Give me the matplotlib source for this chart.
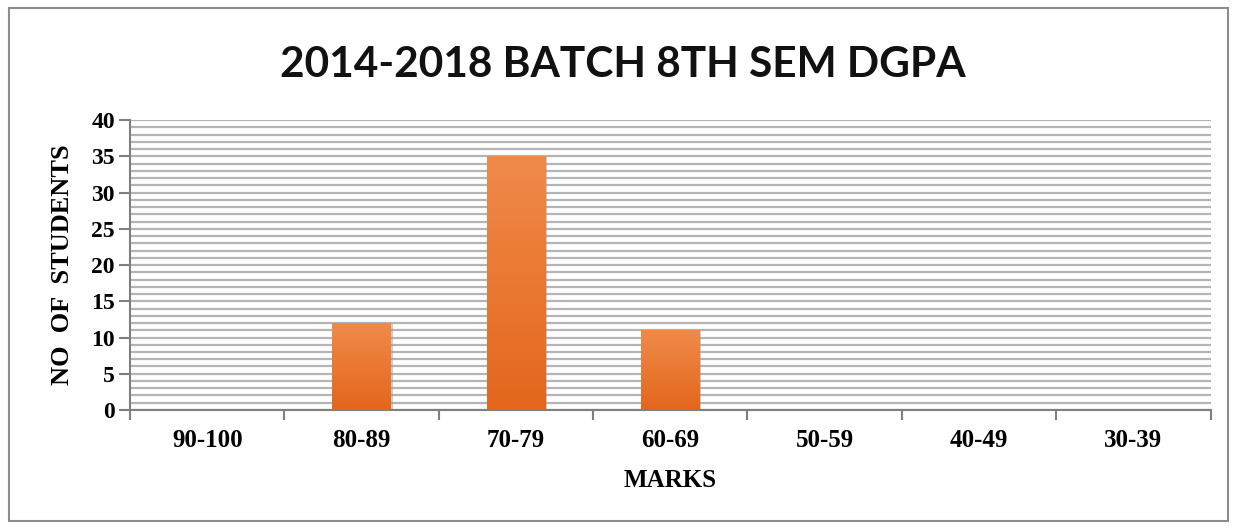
import matplotlib

matplotlib.use("Agg")
import matplotlib.pyplot as plt  # noqa: E402
import numpy as np  # noqa: E402
from matplotlib.colors import LinearSegmentedColormap  # noqa: E402
from matplotlib.patches import Rectangle  # noqa: E402

categories = ["90-100", "80-89", "70-79", "60-69", "50-59", "40-49", "30-39"]
students = [0, 12, 35, 11, 0, 0, 0]
y_ticks = [0, 5, 10, 15, 20, 25, 30, 35, 40]

fig = plt.figure(figsize=(12.39, 5.29), dpi=100)
ax = fig.add_axes([0.105, 0.225, 0.872, 0.548])

# outer chart frame
fig.patches.append(Rectangle((0.007, 0.015), 0.984, 0.97, transform=fig.transFigure,
                             fill=False, edgecolor="#8c8c8c", lw=1.5))

x = np.arange(len(categories))
bars = ax.bar(x, students, width=0.38, color="none", zorder=3)

grad = LinearSegmentedColormap.from_list("og", ["#e4661c", "#f08a4a"])
for b in bars:
    h = b.get_height()
    if h <= 0:
        continue
    x0 = b.get_x()
    w = b.get_width()
    # soft shadow
    ax.add_patch(Rectangle((x0 + 0.012, -0.0), w, h - 0.15, color="#9a9a9a",
                           alpha=0.5, zorder=2, lw=0))
    im = ax.imshow(np.linspace(0, 1, 100).reshape(-1, 1), cmap=grad, origin="lower",
                   extent=[x0, x0 + w, 0, h], aspect="auto", zorder=3)
    im.set_clip_path(b)

ax.set_xlim(-0.5, len(categories) - 0.5)
ax.set_ylim(0, 40)
ax.set_yticks(y_ticks)
ax.set_yticks(np.arange(0, 41, 1), minor=True)
ax.tick_params(axis="y", which="minor", length=0)
ax.grid(axis="y", which="both", color="#b4b4b4", lw=1.6, zorder=0)

ax.set_xticks(x)
ax.set_xticklabels(categories)
ax.set_xticks(np.arange(-0.5, len(categories), 1), minor=True)
ax.tick_params(axis="x", which="major", length=0, pad=14)
ax.tick_params(axis="x", which="minor", length=7, color="#7f7f7f", width=1.5)
ax.tick_params(axis="y", which="major", length=8, color="#7f7f7f", width=1.5, pad=3)

for lab in ax.get_xticklabels() + ax.get_yticklabels():
    lab.set_fontfamily("Liberation Serif")
    lab.set_fontweight("bold")
for lab in ax.get_xticklabels():
    lab.set_fontsize(18)
for lab in ax.get_yticklabels():
    lab.set_fontsize(17)

for side in ("top", "right"):
    ax.spines[side].set_visible(False)
for side in ("left", "bottom"):
    ax.spines[side].set_color("#7f7f7f")
    ax.spines[side].set_linewidth(1.5)

ax.set_xlabel("MARKS", fontfamily="Liberation Serif", fontweight="bold",
              fontsize=18, labelpad=12)
ax.set_ylabel("NO  OF  STUDENTS", fontfamily="Liberation Serif", fontweight="bold",
              fontsize=19, labelpad=12)

fig.text(0.503, 0.877, "2014-2018 BATCH 8TH SEM DGPA", ha="center", va="center",
         fontfamily="Lato", fontweight="bold", fontsize=30.5, color="#111111")

fig.savefig("out.png", dpi=100)
plt.close(fig)
